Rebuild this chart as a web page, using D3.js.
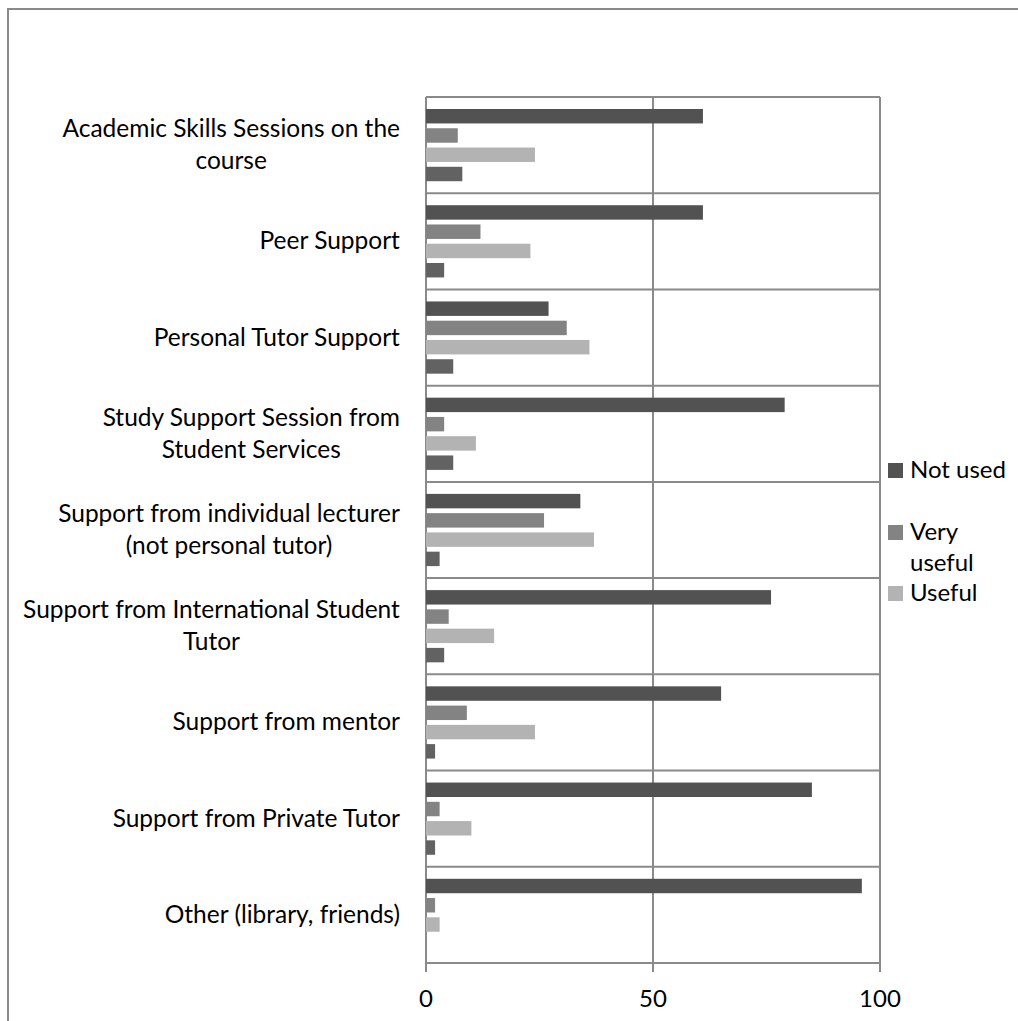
<!DOCTYPE html>
<head>
    <meta charset="utf-8"/>
    <script src="https://d3js.org/d3.v7.min.js"></script>
    <style>
        body { margin: 0; background: #fff; }
        text { font-family: Lato, "Noto Sans", sans-serif; fill: #000; }
    </style>
</head>
<body>
<script>
    // donnees
    var categories = [
        "Academic Skills Sessions on the\ncourse",
        "Peer Support",
        "Personal Tutor Support",
        "Study Support Session from\nStudent Services",
        "Support from individual lecturer\n(not personal tutor)",
        "Support from International Student\nTutor",
        "Support from mentor",
        "Support from Private Tutor",
        "Other (library, friends)"
    ];
    var seriesNames = ["Not used", "Very useful", "Useful", "Not useful"];
    var notUsed    = [61, 61, 27, 79, 34, 76, 65, 85, 96];
    var veryUseful = [7, 12, 31, 4, 26, 5, 9, 3, 2];
    var useful     = [24, 23, 36, 11, 37, 15, 24, 10, 3];
    var notUseful  = [8, 4, 6, 6, 3, 4, 2, 2, 0];
    var xTicks = [0, 50, 100];
    var legendNames = ["Not used", "Very\nuseful", "Useful"];

    var width = 1018, height = 1021;
    var values = [notUsed, veryUseful, useful, notUseful];
    var colors = ["#525252", "#838383", "#b3b3b3", "#626262"];
    var gridColor = "#8a8a8a";

    var svg = d3.select("body").append("svg")
        .attr("width", width)
        .attr("height", height);

    // cadre exterieur
    svg.append("rect")
        .attr("x", 8).attr("y", 9)
        .attr("width", width).attr("height", height)
        .attr("fill", "none")
        .attr("stroke", gridColor)
        .attr("stroke-width", 2);

    var x = d3.scaleLinear().domain([0, 100]).range([426, 880]);
    var y0 = d3.scaleBand().domain(categories).range([97, 963]);
    var y1 = d3.scaleBand().domain(seriesNames)
        .range([12, y0.bandwidth() - 12])
        .paddingInner(0.25);

    // lignes horizontales entre categories
    var bounds = categories.map(function (c) { return y0(c); }).concat([963]);
    svg.append("g").selectAll("line").data(bounds).join("line")
        .attr("x1", x(0)).attr("x2", x(100))
        .attr("y1", function (d) { return d; })
        .attr("y2", function (d) { return d; })
        .attr("stroke", gridColor).attr("stroke-width", 2);

    // grille verticale + graduations
    svg.append("g").selectAll("line").data(xTicks).join("line")
        .attr("x1", function (d) { return x(d); })
        .attr("x2", function (d) { return x(d); })
        .attr("y1", 97).attr("y2", 972)
        .attr("stroke", gridColor).attr("stroke-width", 2);

    svg.append("g").selectAll("text").data(xTicks).join("text")
        .attr("x", function (d) { return x(d); })
        .attr("y", 1007)
        .attr("text-anchor", "middle")
        .style("font-size", "24px")
        .text(function (d) { return d; });

    // barres
    var groups = svg.append("g").selectAll("g").data(categories).join("g")
        .attr("transform", function (d) { return "translate(0," + y0(d) + ")"; });

    groups.selectAll("rect")
        .data(function (d, i) {
            return seriesNames.map(function (s, j) { return {s: s, v: values[j][i], j: j}; });
        })
        .join("rect")
        .attr("x", x(0))
        .attr("y", function (d) { return y1(d.s); })
        .attr("width", function (d) { return x(d.v) - x(0); })
        .attr("height", y1.bandwidth())
        .attr("fill", function (d) { return colors[d.j]; });

    // etiquettes des categories (lignes centrees dans un bloc aligne a droite)
    var lineH = 32;
    categories.forEach(function (c) {
        var lines = c.split("\n");
        var cy = y0(c) + y0.bandwidth() / 2;
        var t = svg.append("text").style("font-size", "24.5px");
        lines.forEach(function (l, k) {
            t.append("tspan").attr("x", 0)
                .attr("y", cy + (k - (lines.length - 1) / 2) * lineH + 8).text(l);
        });
        var w = t.node().getBBox().width;
        t.selectAll("tspan").attr("x", 400 - w / 2).attr("text-anchor", "middle");
    });

    // legende
    var legendY = [470, 532, 593];
    legendNames.forEach(function (n, i) {
        svg.append("rect")
            .attr("x", 888).attr("y", legendY[i] - 7)
            .attr("width", 15).attr("height", 15)
            .attr("fill", colors[i]);
        var t = svg.append("text").style("font-size", "24px");
        n.split("\n").forEach(function (l, k) {
            t.append("tspan").attr("x", 910).attr("y", legendY[i] + 8 + k * 31).text(l);
        });
    });
</script>
</body>
